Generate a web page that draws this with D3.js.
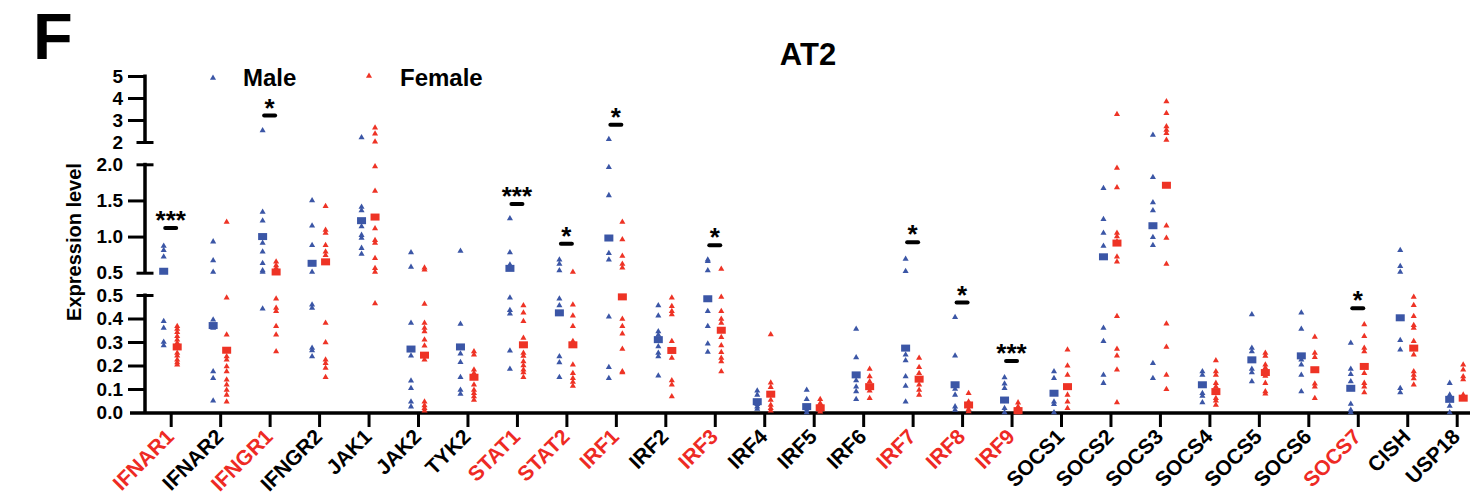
<!DOCTYPE html>
<html>
<head>
<meta charset="utf-8">
<script src="https://cdn.jsdelivr.net/npm/d3@7"></script>
<style>
body { margin: 0; background: #fff; }
svg text { font-family: "Liberation Sans", Arial, Helvetica, sans-serif; font-weight: bold; }
</style>
</head>
<body>
<script>
"use strict"
/* genes on the x axis, the red ones are the significant ones */
const genes = ["IFNAR1", "IFNAR2", "IFNGR1", "IFNGR2", "JAK1", "JAK2", "TYK2", "STAT1", "STAT2",
    "IRF1", "IRF2", "IRF3", "IRF4", "IRF5", "IRF6", "IRF7", "IRF8", "IRF9",
    "SOCS1", "SOCS2", "SOCS3", "SOCS4", "SOCS5", "SOCS6", "SOCS7", "CISH", "USP18"];
const redGenes = ["IFNAR1", "IFNGR1", "STAT1", "STAT2", "IRF1", "IRF3", "IRF7", "IRF8", "IRF9", "SOCS7"];

/* single samples, one list per gene (same order as genes) */
const maleValues = [
    [0.87, 0.81, 0.72, 0.388, 0.36, 0.30, 0.285],
    [0.93, 0.67, 0.51, 0.395, 0.36, 0.174, 0.146, 0.05],
    [2.52, 1.34, 1.22, 0.91, 0.79, 0.63, 0.53, 0.51, 0.441],
    [1.5, 1.15, 0.88, 0.51, 0.459, 0.445, 0.274, 0.264, 0.238],
    [2.2, 1.41, 1.36, 1.14, 1.02, 0.98, 0.84, 0.76],
    [0.78, 0.58, 0.381, 0.241, 0.135, 0.103, 0.046, 0.025],
    [0.8, 0.377, 0.25, 0.214, 0.15, 0.096, 0.079],
    [1.25, 0.78, 0.61, 0.488, 0.435, 0.42, 0.263, 0.185],
    [0.68, 0.62, 0.53, 0.484, 0.455, 0.238, 0.213, 0.15],
    [2.12, 1.96, 1.57, 0.77, 0.68, 0.407, 0.193, 0.146],
    [0.455, 0.412, 0.345, 0.33, 0.281, 0.253, 0.238, 0.156],
    [0.68, 0.66, 0.53, 0.431, 0.367, 0.293, 0.257],
    [0.093, 0.075, 0.035, 0.025, 0.015],
    [0.096, 0.056, 0.01, 0.0],
    [0.355, 0.234, 0.136, 0.11, 0.089, 0.056],
    [0.69, 0.52, 0.246, 0.221, 0.153, 0.113, 0.046],
    [0.405, 0.241, 0.1, 0.075, 0.025, 0.011],
    [0.149, 0.122, 0.103, 0.018, 0.0],
    [0.174, 0.146, 0.046, 0.035, 0.0],
    [1.67, 1.24, 1.05, 0.87, 0.36, 0.303, 0.16, 0.125],
    [2.32, 1.82, 1.47, 1.36, 0.99, 0.88, 0.21, 0.146],
    [0.174, 0.16, 0.082, 0.07, 0.043],
    [0.417, 0.274, 0.26, 0.185, 0.17, 0.132],
    [0.424, 0.355, 0.225, 0.203, 0.16, 0.089],
    [0.296, 0.185, 0.163, 0.132, 0.036, 0.011, 0.0],
    [0.81, 0.59, 0.51, 0.307, 0.267, 0.103, 0.085],
    [0.125, 0.075, 0.028, 0.0]
];
const femaleValues = [
    [0.367, 0.355, 0.341, 0.324, 0.31, 0.296, 0.253, 0.241, 0.224, 0.213, 0.203],
    [1.2, 0.488, 0.331, 0.238, 0.224, 0.196, 0.174, 0.139, 0.118, 0.096, 0.075, 0.046],
    [0.65, 0.6, 0.56, 0.484, 0.445, 0.431, 0.367, 0.331, 0.26],
    [1.42, 1.09, 1.05, 0.88, 0.79, 0.74, 0.381, 0.298, 0.224, 0.21, 0.189, 0.15],
    [2.65, 2.37, 2.01, 1.97, 1.63, 1.11, 0.95, 0.91, 0.7, 0.56, 0.51, 0.464],
    [0.57, 0.54, 0.462, 0.381, 0.36, 0.345, 0.31, 0.284, 0.224, 0.046, 0.03, 0.018, 0.008],
    [0.26, 0.246, 0.182, 0.167, 0.118, 0.096, 0.082, 0.068, 0.053],
    [0.455, 0.424, 0.388, 0.317, 0.253, 0.24, 0.217, 0.2, 0.182, 0.17, 0.15],
    [0.51, 0.459, 0.412, 0.367, 0.303, 0.203, 0.167, 0.146, 0.13, 0.113],
    [1.2, 0.96, 0.73, 0.62, 0.57, 0.398, 0.367, 0.335, 0.27, 0.174, 0.17],
    [0.488, 0.452, 0.431, 0.417, 0.303, 0.232, 0.136, 0.118, 0.068],
    [0.55, 0.491, 0.431, 0.398, 0.381, 0.32, 0.285, 0.256, 0.232, 0.217, 0.174],
    [0.332, 0.127, 0.108, 0.053, 0.032, 0.018, 0.008],
    [0.056, 0.039, 0.012, 0.003],
    [0.185, 0.153, 0.132, 0.093, 0.061],
    [0.232, 0.193, 0.167, 0.118, 0.096, 0.075],
    [0.082, 0.046, 0.014, 0.004],
    [0.042, 0.025, 0.0],
    [0.267, 0.199, 0.16, 0.075, 0.046, 0.018],
    [3.26, 1.95, 1.68, 1.05, 1.0, 0.93, 0.72, 0.65, 0.41, 0.27, 0.241, 0.182, 0.043],
    [3.84, 3.31, 2.7, 2.55, 2.4, 2.09, 1.15, 0.98, 0.62, 0.378, 0.279, 0.16, 0.099],
    [0.221, 0.174, 0.16, 0.125, 0.11, 0.061, 0.05, 0.032],
    [0.253, 0.24, 0.203, 0.19, 0.155, 0.125, 0.089, 0.08],
    [0.321, 0.253, 0.235, 0.122, 0.11, 0.061],
    [0.374, 0.324, 0.274, 0.26, 0.167, 0.125, 0.11, 0.085],
    [0.491, 0.456, 0.41, 0.371, 0.36, 0.303, 0.246, 0.174, 0.16, 0.145, 0.118],
    [0.203, 0.182, 0.153, 0.14, 0.075]
];
/* group means (the squares) */
const maleMeans = [0.52, 0.37, 1.0, 0.63, 1.22, 0.27, 0.279, 0.56, 0.424, 0.98, 0.31, 0.484, 0.046, 0.025,
    0.16, 0.274, 0.118, 0.053, 0.082, 0.72, 1.15, 0.118, 0.224, 0.241, 0.103, 0.403, 0.056];
const femaleMeans = [0.279, 0.265, 0.51, 0.65, 1.27, 0.244, 0.15, 0.288, 0.288, 0.492, 0.264, 0.35, 0.078, 0.02,
    0.11, 0.142, 0.032, 0.008, 0.11, 0.91, 1.71, 0.089, 0.17, 0.182, 0.196, 0.274, 0.061];

/* significance bars */
const sigGenes = ["IFNAR1", "IFNGR1", "STAT1", "STAT2", "IRF1", "IRF3", "IRF7", "IRF8", "IRF9", "SOCS7"];
const sigHeights = [1.12, 3.2, 1.45, 0.9, 2.78, 0.88, 0.92, 0.468, 0.219, 0.444];
const sigMarks = ["***", "*", "***", "*", "*", "*", "*", "*", "***", "*"];

/* broken y axis: three pieces */
const ticksBottom = [0, 0.1, 0.2, 0.3, 0.4, 0.5];
const ticksMiddle = [0.5, 1.0, 1.5, 2.0];
const ticksTop = [2, 3, 4, 5];

const colours = { male: "#3b56a6", female: "#ee3325", red: "#ee2a24" };
const chart = { width: 1479, height: 494, axisX: 145, axisY: 413 };

const svg = d3.select("body").append("svg")
    .attr("width", chart.width)
    .attr("height", chart.height);

const xScale = d3.scalePoint().domain(genes).range([170.7, 1456.7]);
const yBottom = d3.scaleLinear().domain([0, 0.5]).range([412.5, 295]);
const yMiddle = d3.scaleLinear().domain([0.5, 2]).range([272.7, 164.3]);
const yTop = d3.scaleLinear().domain([2, 5]).range([142, 76]);

function yScale(v) {
    if (v <= 0.5) return yBottom(v);
    if (v <= 2) return yMiddle(v);
    return yTop(v);
}

/* panel letter and title */
svg.append("text").attr("x", 33).attr("y", 59).attr("font-size", "65px").text("F");
svg.append("text").attr("x", 808).attr("y", 65).attr("text-anchor", "middle")
    .attr("font-size", "31px").text("AT2");

/* y axis title */
svg.append("text")
    .attr("transform", "translate(81,242) rotate(-90)")
    .attr("text-anchor", "middle")
    .attr("font-size", "20px")
    .text("Expression level");

/* the three y axis pieces; the ends that meet a break get a cap */
function drawPiece(scale, values, format, caps) {
    const g = svg.append("g").attr("transform", `translate(${chart.axisX},0)`);
    g.call(d3.axisLeft(scale).tickValues(values).tickFormat(format)
        .tickSize(17).tickSizeOuter(0).tickPadding(5));
    g.select(".domain").remove();
    g.selectAll(".tick line").attr("stroke", "#000").attr("stroke-width", 3);
    g.selectAll(".tick").filter(function (d) { return caps.indexOf(d) >= 0 })
        .select("line").attr("x1", 8.5).attr("x2", -8.5);
    g.selectAll(".tick text").attr("font-size", "19px").attr("fill", "#000")
        .attr("font-family", null);
    const r = scale.range();
    g.append("line").attr("x1", 0).attr("x2", 0)
        .attr("y1", r[0]).attr("y2", r[1] - 1.5)
        .attr("stroke", "#000").attr("stroke-width", 3.5);
    return g;
}
const bottomAxis = drawPiece(yBottom, ticksBottom, d3.format(".1f"), [0.5]);
bottomAxis.selectAll(".tick").filter(function (d) { return d === 0 }).select("line").remove();
drawPiece(yMiddle, ticksMiddle, d3.format(".1f"), [0.5, 2]);
drawPiece(yTop, ticksTop, d3.format("d"), [2]);

/* x axis with rotated gene names */
const xAxisGroup = svg.append("g").attr("transform", `translate(0,${chart.axisY})`);
xAxisGroup.call(d3.axisBottom(xScale).tickSize(14).tickSizeOuter(0));
xAxisGroup.select(".domain").remove();
xAxisGroup.selectAll(".tick line").attr("stroke", "#000").attr("stroke-width", 3);
xAxisGroup.selectAll(".tick text")
    .attr("x", 0).attr("y", 0).attr("dy", 0)
    .attr("transform", "translate(4,25) rotate(-45)")
    .attr("text-anchor", "end")
    .attr("font-size", "21px")
    .attr("font-family", null)
    .attr("fill", function (d) { return redGenes.indexOf(d) >= 0 ? colours.red : "#000" });
xAxisGroup.append("line")
    .attr("x1", 130).attr("x2", 1470).attr("y1", 0).attr("y2", 0)
    .attr("stroke", "#000").attr("stroke-width", 3.5);

/* individual samples as small triangles */
const points = [];
genes.forEach(function (g, i) {
    maleValues[i].forEach(function (v) { points.push({ gene: g, value: v, sex: "male" }) });
    femaleValues[i].forEach(function (v) { points.push({ gene: g, value: v, sex: "female" }) });
});
const offset = { male: -7, female: 6.5 };
const triangle = d3.symbol().type(d3.symbolTriangle).size(16);

svg.append("g").selectAll("path")
    .data(points)
    .enter()
    .append("path")
    .attr("d", triangle)
    .attr("transform", function (d) {
        return `translate(${xScale(d.gene) + offset[d.sex]},${yScale(d.value)})`
    })
    .attr("fill", function (d) { return colours[d.sex] });

/* means as squares */
const means = [];
genes.forEach(function (g, i) {
    means.push({ gene: g, value: maleMeans[i], sex: "male" });
    means.push({ gene: g, value: femaleMeans[i], sex: "female" });
});
svg.append("g").selectAll("rect")
    .data(means)
    .enter()
    .append("rect")
    .attr("x", function (d) { return xScale(d.gene) + offset[d.sex] - 4.5 })
    .attr("y", function (d) { return yScale(d.value) - 3.5 })
    .attr("width", 9)
    .attr("height", 7)
    .attr("fill", function (d) { return colours[d.sex] });

/* significance bars and stars */
const sigGroup = svg.append("g").selectAll("g")
    .data(sigGenes)
    .enter()
    .append("g");
sigGroup.append("line")
    .attr("x1", function (d) { return xScale(d) - 5.5 })
    .attr("x2", function (d) { return xScale(d) + 5.5 })
    .attr("y1", function (d, i) { return yScale(sigHeights[i]) })
    .attr("y2", function (d, i) { return yScale(sigHeights[i]) })
    .attr("stroke", "#000").attr("stroke-width", 4).attr("stroke-linecap", "round");
sigGroup.append("text")
    .attr("x", function (d) { return xScale(d) })
    .attr("y", function (d, i) { return yScale(sigHeights[i]) + 1 })
    .attr("text-anchor", "middle")
    .attr("font-size", "26px")
    .text(function (d, i) { return sigMarks[i] });

/* legend */
const legend = [{ label: "Male", sex: "male", x: 213, y: 78, tx: 243 },
    { label: "Female", sex: "female", x: 369, y: 76, tx: 400 }];
legend.forEach(function (l) {
    svg.append("path").attr("d", triangle)
        .attr("transform", `translate(${l.x},${l.y})`)
        .attr("fill", colours[l.sex]);
    svg.append("text").attr("x", l.tx).attr("y", 86)
        .attr("font-size", "24px").text(l.label);
});
</script>
</body>
</html>
